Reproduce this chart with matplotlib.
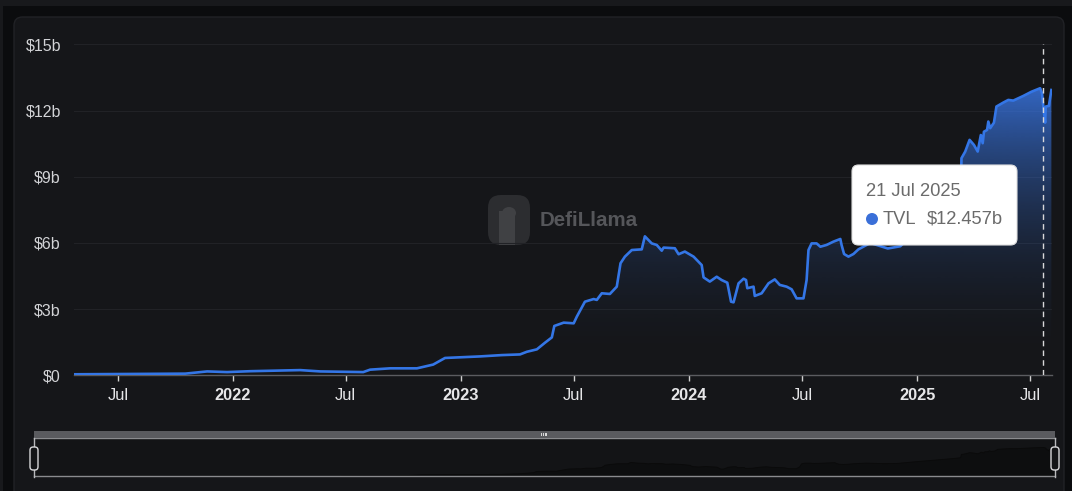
import numpy as np
import pandas as pd
import matplotlib
matplotlib.use("Agg")
import matplotlib.pyplot as plt
import matplotlib.dates as mdates
from matplotlib.patches import FancyBboxPatch, Rectangle, Ellipse
from matplotlib.lines import Line2D

# ============================================================
# DATA  (TVL in billions of USD)
# ============================================================
dates = [
    "2021-04-21", "2021-10-17", "2021-11-21", "2021-12-23", "2022-01-29",
    "2022-04-19", "2022-05-21", "2022-07-29", "2022-08-09", "2022-09-10",
    "2022-10-23", "2022-11-18", "2022-12-07", "2023-02-01", "2023-03-08",
    "2023-04-06", "2023-04-17", "2023-05-03", "2023-05-16", "2023-05-27",
    "2023-05-31", "2023-06-15", "2023-07-01", "2023-07-06", "2023-07-19",
    "2023-08-02", "2023-08-07", "2023-08-15", "2023-08-28", "2023-09-08",
    "2023-09-14", "2023-09-21", "2023-10-02", "2023-10-18", "2023-10-23",
    "2023-11-03", "2023-11-11", "2023-11-19", "2023-11-22", "2023-12-10",
    "2023-12-16", "2023-12-26", "2024-01-09", "2024-01-22", "2024-01-25",
    "2024-02-04", "2024-02-15", "2024-02-23", "2024-03-03", "2024-03-09",
    "2024-03-13", "2024-03-21", "2024-03-29", "2024-04-02", "2024-04-04",
    "2024-04-14", "2024-04-16", "2024-04-27", "2024-05-08", "2024-05-18",
    "2024-05-26", "2024-06-06", "2024-06-14", "2024-06-22", "2024-07-03",
    "2024-07-08", "2024-07-11", "2024-07-16", "2024-07-24", "2024-07-30",
    "2024-08-09", "2024-08-20", "2024-08-31", "2024-09-02", "2024-09-06",
    "2024-09-13", "2024-09-21", "2024-09-29", "2024-10-18", "2024-11-15",
    "2024-12-05", "2024-12-29", "2025-01-30", "2025-03-03", "2025-03-12",
    "2025-03-13", "2025-03-19", "2025-03-26", "2025-04-02", "2025-04-08",
    "2025-04-13", "2025-04-16", "2025-04-18", "2025-04-23", "2025-04-25",
    "2025-04-28", "2025-05-04", "2025-05-08", "2025-05-19", "2025-05-27",
    "2025-06-04", "2025-06-20", "2025-07-03", "2025-07-17", "2025-07-20",
    "2025-07-21", "2025-07-25", "2025-07-26", "2025-07-31", "2025-08-04",
]
tvl = [
    0.05, 0.08, 0.18, 0.15, 0.19,
    0.24, 0.18, 0.15, 0.26, 0.32,
    0.32, 0.49, 0.79, 0.86, 0.92,
    0.95, 1.07, 1.18, 1.48, 1.72,
    2.24, 2.39, 2.36, 2.66, 3.34,
    3.46, 3.42, 3.72, 3.69, 4.02,
    5.08, 5.38, 5.68, 5.71, 6.30,
    5.98, 5.91, 5.65, 5.79, 5.76,
    5.49, 5.61, 5.38, 5.00, 4.44,
    4.25, 4.47, 4.32, 4.20, 3.34,
    3.31, 4.17, 4.38, 4.32, 3.95,
    4.02, 3.60, 3.72, 4.17, 4.35,
    4.10, 4.02, 3.90, 3.49, 3.49,
    4.32, 5.68, 5.98, 5.98, 5.83,
    5.91, 6.06, 6.18, 5.91, 5.50,
    5.38, 5.50, 5.71, 6.00, 5.75,
    5.85, 6.50, 7.30, 8.10, 8.40,
    9.84, 10.14, 10.67, 10.44, 10.14,
    10.89, 10.52, 11.04, 11.12, 11.50,
    11.20, 11.45, 12.18, 12.36, 12.48,
    12.45, 12.66, 12.85, 13.01, 12.78,
    12.457, 11.45, 12.18, 12.21, 12.93,
]

y_ticks = [0, 3, 6, 9, 12, 15]
y_tick_labels = ["$0", "$3b", "$6b", "$9b", "$12b", "$15b"]
x_tick_dates = ["2021-07-01", "2022-01-01", "2022-07-01", "2023-01-01",
                "2023-07-01", "2024-01-01", "2024-07-01", "2025-01-01",
                "2025-07-01"]
x_tick_labels = ["Jul", "2022", "Jul", "2023", "Jul", "2024", "Jul", "2025", "Jul"]

tooltip_date = "2025-07-21"
tooltip_title = "21 Jul 2025"
tooltip_series = "TVL"
tooltip_value = 12.457

# ============================================================
# STYLE
# ============================================================
W, H = 1072, 491
BG_OUTER = "#0b0c0e"
BG_CARD = "#151619"
LINE_BLUE = "#3476e6"
GRID = "#212226"
LABEL = "#d2d3d6"

plt.rcParams["font.family"] = ["Liberation Sans", "DejaVu Sans"]


def px(x, y):
    """pixel (from top-left) -> figure fraction"""
    return x / W, 1 - y / H


fig = plt.figure(figsize=(W / 100, H / 100), dpi=100, facecolor=BG_OUTER)

# ── page chrome ───────────────────────────────────────────────
fig.patches.append(Rectangle(px(0, 6), 1, 6 / H, transform=fig.transFigure,
                             facecolor="#18191c", edgecolor="none", zorder=-2))
fig.patches.append(Rectangle(px(0, 491), 3 / W, 1, transform=fig.transFigure,
                             facecolor="#18191c", edgecolor="none", zorder=-2))
cx, cy = px(14, 520)
fig.patches.append(FancyBboxPatch(
    (cx, cy), 1050 / W, (520 - 17) / H, boxstyle="round,pad=0,rounding_size=0.008",
    transform=fig.transFigure, facecolor=BG_CARD, edgecolor="#212226",
    linewidth=1, zorder=-1, mutation_aspect=W / H))

# ── watermark (behind the plot) ───────────────────────────────
lx, ly = px(488, 245)
fig.patches.append(FancyBboxPatch(
    (lx, ly), 42 / W, 50 / H, boxstyle="round,pad=0,rounding_size=0.012",
    transform=fig.transFigure, facecolor="#2c2d30", edgecolor="none",
    zorder=0, mutation_aspect=W / H))
fig.patches.append(Rectangle(px(499, 245), 16 / W, 34 / H, transform=fig.transFigure,
                             facecolor="#404144", edgecolor="none", zorder=0))
fig.patches.append(Ellipse(px(509, 213), 14 / W, 12 / H, transform=fig.transFigure,
                           facecolor="#404144", edgecolor="none", zorder=0))
fig.text(*px(540, 221), "DefiLlama", color="#55565a", fontsize=14.8,
         fontweight="bold", va="center", ha="left", zorder=0)

# ── main chart ────────────────────────────────────────────────
x = mdates.date2num(pd.to_datetime(dates))
y = np.array(tvl)
xlim = (x[0], x[-1] + 0.5)

ax_left, ax_bottom = px(73.5, 375.4)
ax_right, ax_top = px(1051.7, 44.3)
ax = fig.add_axes([ax_left, ax_bottom, ax_right - ax_left, ax_top - ax_bottom])
ax.set_facecolor("none")
ax.set_zorder(1)

# gradient area under the line
poly = ax.fill_between(x, y, 0, color="none", linewidth=0)
clip = poly.get_paths()[0]
g = np.linspace(0, 1, 300)[:, None]
rgba = np.zeros((300, 1, 4))
rgba[..., :3] = matplotlib.colors.to_rgb("#3a78e8")
rgba[..., 3] = 0.82 * g ** 2.1
im = ax.imshow(rgba, extent=[x[0], x[-1], 0, y.max()], origin="lower",
               aspect="auto", zorder=1, interpolation="bilinear")
im.set_clip_path(clip, transform=ax.transData)

ax.plot(x, y, color=LINE_BLUE, linewidth=1.9, zorder=3, solid_joinstyle="round")

ax.set_xlim(*xlim)
ax.set_ylim(0, 15)

for t in y_ticks[1:]:
    ax.axhline(t, color=GRID, linewidth=0.8, zorder=0)

for s in ["top", "right", "left"]:
    ax.spines[s].set_visible(False)
ax.spines["bottom"].set_color("#5b5c60")
ax.spines["bottom"].set_linewidth(1)

ax.set_yticks(y_ticks)
ax.set_yticklabels(y_tick_labels)
ax.tick_params(axis="y", length=0, pad=9, labelsize=11.5, labelcolor=LABEL)

ax.set_xticks(mdates.date2num(pd.to_datetime(x_tick_dates)))
ax.set_xticklabels(x_tick_labels)
ax.tick_params(axis="x", length=4, width=1, color="#d0d0d0", pad=5,
               labelsize=11.8, labelcolor="#e6e6e8")
for lbl in ax.get_xticklabels():
    if lbl.get_text() != "Jul":
        lbl.set_fontweight("bold")

# hover line + tooltip
tx = mdates.date2num(pd.to_datetime(tooltip_date))
ax.axvline(tx, color="#d8d8da", linewidth=1, linestyle=(0, (4, 3)), zorder=4)

bx, by = px(852, 245)
fig.patches.append(FancyBboxPatch(
    (bx, by), 165 / W, 80 / H, boxstyle="round,pad=0,rounding_size=0.006",
    transform=fig.transFigure, facecolor="white", edgecolor="#e0e0e0",
    linewidth=0.8, zorder=10, mutation_aspect=W / H))
fig.text(*px(866, 192), tooltip_title, color="#6b6b6b", fontsize=13.2,
         va="center", ha="left", zorder=11)
fig.patches.append(Ellipse(px(872, 219), 12 / W, 12 / H, transform=fig.transFigure,
                           facecolor="#3a6fd8", edgecolor="none", zorder=11))
fig.text(*px(883, 219), tooltip_series, color="#6b6b6b", fontsize=13.2,
         va="center", ha="left", zorder=11)
fig.text(*px(1003, 219), f"${tooltip_value:.3f}b", color="#6b6b6b",
         fontsize=13.2, va="center", ha="right", zorder=11)

# ── range slider ──────────────────────────────────────────────
sx0, sx1 = 34, 1055
bar_l, bar_b = px(sx0, 438)
fig.patches.append(Rectangle((bar_l, bar_b), (sx1 - sx0) / W, 7 / H,
                             transform=fig.transFigure, facecolor="#5a5b5f",
                             edgecolor="none", zorder=2))
for k in range(3):
    gx, gy = px(541 + 2.2 * k, 436)
    fig.patches.append(Rectangle((gx, gy), 1.2 / W, 3 / H, transform=fig.transFigure,
                                 facecolor="#d8d8d8", edgecolor="none", zorder=3))

s_l, s_b = px(sx0, 476)
axs = fig.add_axes([s_l, s_b, (sx1 - sx0) / W, 38 / H])
axs.set_zorder(1)
axs.set_facecolor("#131416")
axs.fill_between(x, y, 0, color="#0d0e0f", linewidth=0.6, edgecolor="#0a0a0a")
axs.set_xlim(*xlim)
axs.set_ylim(0, 17)
axs.set_xticks([])
axs.set_yticks([])
for s in axs.spines.values():
    s.set_color("#8a8b8e")
    s.set_linewidth(1)
axs.spines["left"].set_visible(False)
axs.spines["right"].set_visible(False)

for hxp in (sx0, sx1):
    fig.add_artist(Line2D([hxp / W] * 2, [1 - 438 / H, 1 - 477 / H],
                          transform=fig.transFigure,
                          color="#b8b9bc", linewidth=1, zorder=4))
    hl, hb = px(hxp - 4, 470)
    fig.patches.append(FancyBboxPatch(
        (hl, hb), 8 / W, 23 / H, boxstyle="round,pad=0,rounding_size=0.003",
        transform=fig.transFigure, facecolor="#141517", edgecolor="#d8d8da",
        linewidth=1, zorder=5, mutation_aspect=W / H))

fig.savefig("out.png", dpi=100, facecolor=BG_OUTER)
